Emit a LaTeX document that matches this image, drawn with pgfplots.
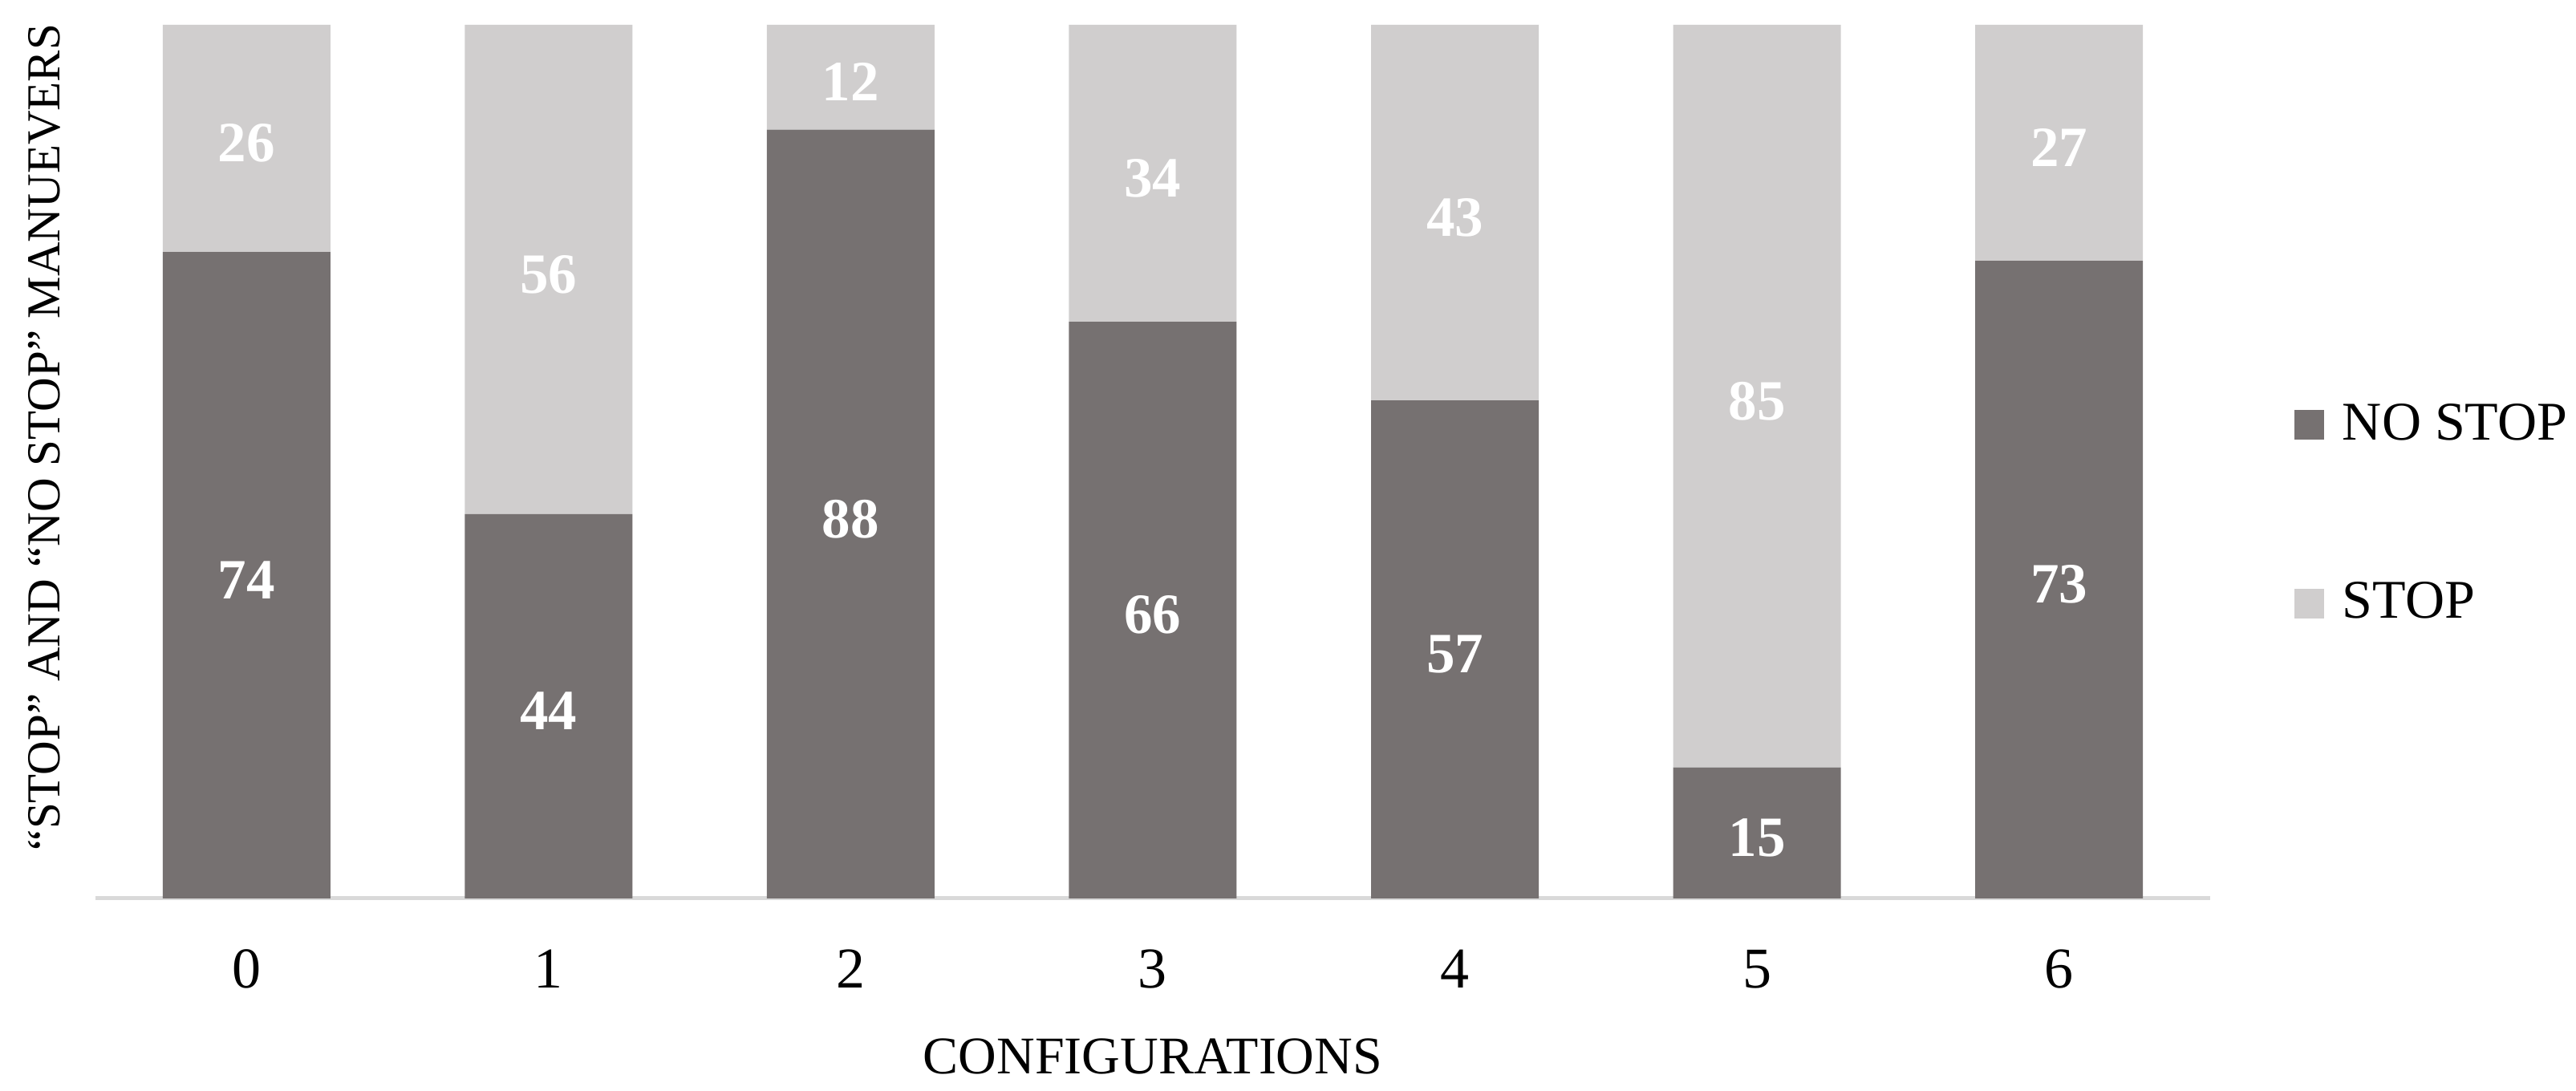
\documentclass[border=0pt]{standalone}
\usepackage{fontspec}
\setmainfont{Liberation Serif}
\usepackage{pgfplots}
\pgfplotsset{compat=1.18}
\definecolor{nostop}{HTML}{767171}
\definecolor{stopc}{HTML}{D0CECE}
\definecolor{axgray}{HTML}{D9D9D9}
\begin{document}
\begin{tikzpicture}
\path[use as bounding box] (-23.8pt,-48pt) rectangle (618.4pt,224pt);
\begin{axis}[
  at={(0pt,0pt)}, anchor=south west,
  scale only axis, width=527.2pt, height=217.8pt,
  ybar stacked, bar width=0.555,
  xmin=-0.5, xmax=6.5, ymin=0, ymax=100,
  axis y line*=left, axis x line*=bottom,
  y axis line style={draw=none},
  x axis line style={-, draw=axgray, line width=1pt},
  xtick={0,...,6}, major tick length=0pt, ytick=\empty,
  /pgf/number format/assume math mode=true,
  xticklabel style={anchor=center, yshift=-17.6pt, font=\fontsize{14.4}{17}\selectfont},
  xlabel={CONFIGURATIONS},
  xlabel style={at={(axis description cs:0.5,-0.1809)}, anchor=center, font=\fontsize{13.2}{16}\selectfont},
  ylabel={“STOP” AND “NO STOP” MANUEVERS},
  ylabel style={at={(axis description cs:-0.0243,0.528)}, anchor=center, font=\fontsize{11.8}{14}\selectfont},
  nodes near coords,
  every node near coord/.append style={anchor=center, yshift=-1.2pt, text=white, font=\bfseries\fontsize{14.2}{17}\selectfont},
  legend style={at={(axis description cs:1,0.44)}, anchor=west, xshift=17.8pt, draw=none, fill=none, font=\fontsize{13.6}{16}\selectfont, row sep=30pt},
  legend cell align=left,
  legend image code/.code={\fill[#1,draw=none] (0pt,-3.7pt) rectangle (7.4pt,3.7pt); \path (10pt,0pt);},
]
\addplot[fill=nostop, draw=none] coordinates {(0,74) (1,44) (2,88) (3,66) (4,57) (5,15) (6,73)};
\addlegendentry{NO STOP}
\addplot[fill=stopc, draw=none] coordinates {(0,26) (1,56) (2,12) (3,34) (4,43) (5,85) (6,27)};
\addlegendentry{STOP}
\end{axis}
\end{tikzpicture}
\end{document}
